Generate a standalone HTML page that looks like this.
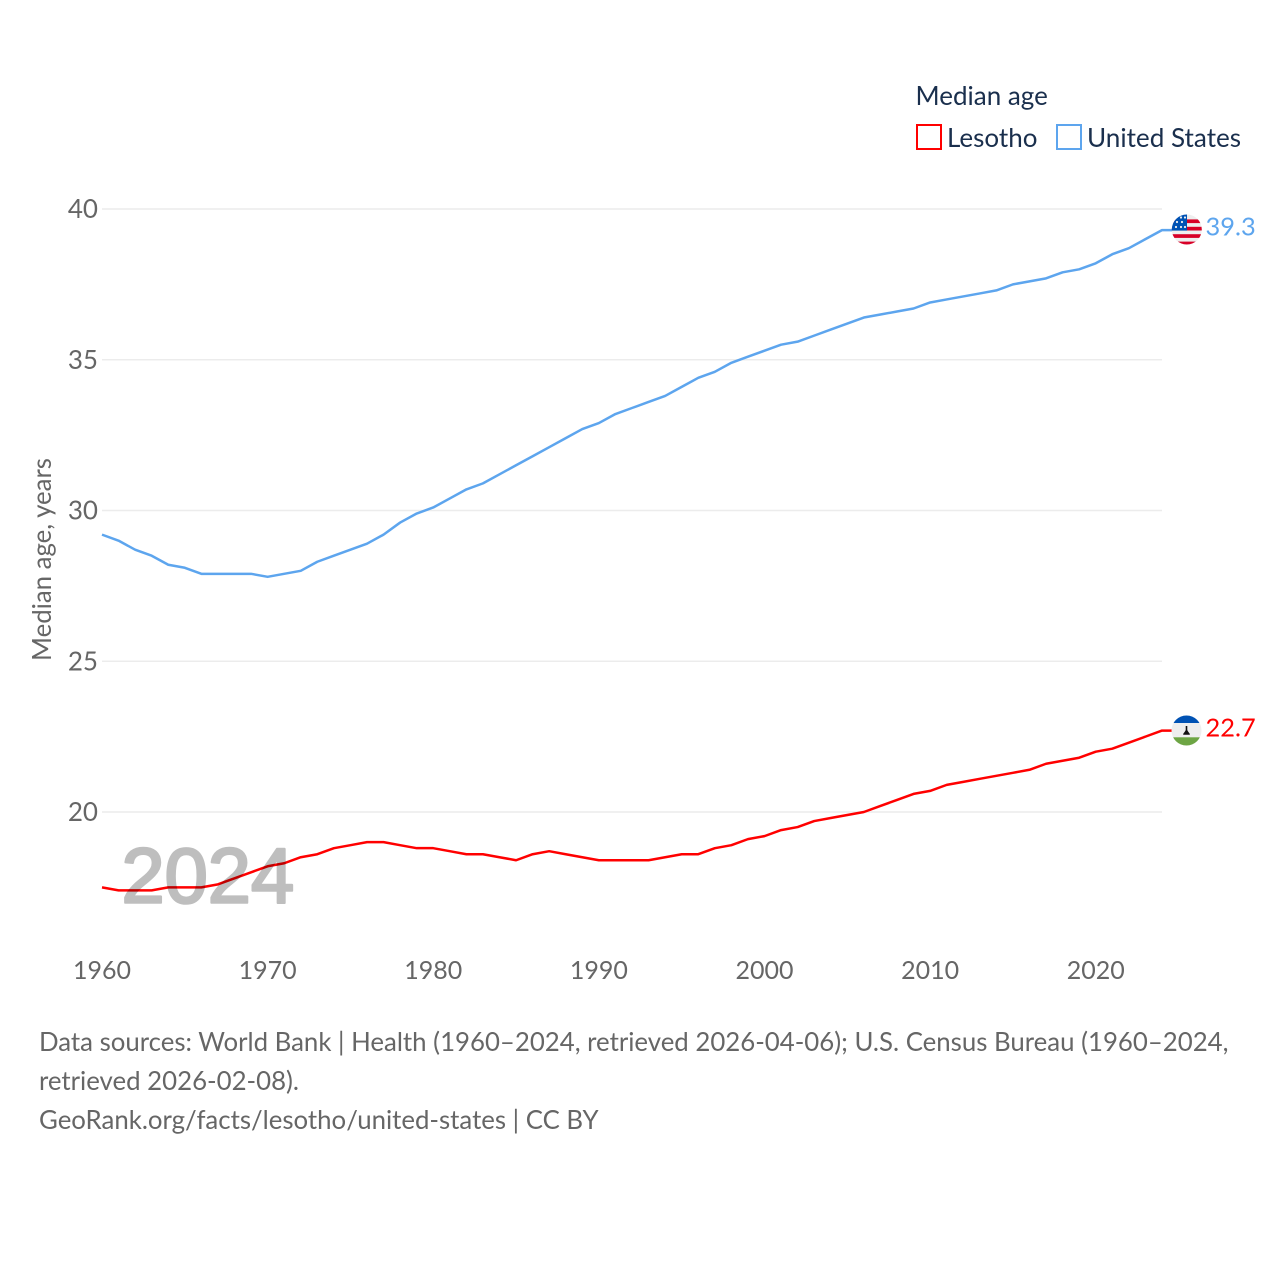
<!DOCTYPE html>
<html lang="en">
<head>
<meta charset="utf-8">
<title>Median age: Lesotho and United States</title>
<style>
html,body{margin:0;padding:0;background:#fff;width:1280px;height:1280px;overflow:hidden}
svg{display:block}
text{font-family:"Lato","Carlito","Liberation Sans",sans-serif}
</style>
</head>
<body>
<svg id="chart" xmlns="http://www.w3.org/2000/svg" width="1280" height="1280" viewBox="0 0 1280 1280">
  <defs>
    <clipPath id="flag-us-clip"><circle cx="1186.8" cy="229.5" r="15"/></clipPath>
    <clipPath id="flag-ls-clip"><circle cx="1186.5" cy="730.5" r="15"/></clipPath>
  </defs>
  <g id="grid"></g>
  <g id="ylabels"></g>
  <g id="xlabels"></g>
  <text transform="translate(51,559.5) rotate(-90)" text-anchor="middle" font-size="25.8" fill="#666666">Median age, years</text>
  <g id="lines"></g>
  <text x="121.5" y="902.5" font-size="77.6" font-weight="400" fill="#000000" stroke="#000000" stroke-width="2.6" stroke-linejoin="round" opacity="0.25" style="font-family:'Liberation Sans',sans-serif">2024</text>

  <g>
    <text x="915.5" y="105" font-size="26" fill="#1a2f4d">Median age</text>
    <g>
      <rect x="917" y="125" width="24" height="24" fill="none" stroke="#ff0000" stroke-width="2"/>
      <text x="947" y="147" font-size="26" fill="#1a2f4d">Lesotho</text>
    </g>
    <g>
      <rect x="1057" y="125" width="24" height="24" fill="none" stroke="#5da5ee" stroke-width="2"/>
      <text x="1087" y="147" font-size="26.1" fill="#1a2f4d">United States</text>
    </g>
  </g>

  <g clip-path="url(#flag-us-clip)">
    <rect x="1171" y="214" width="32" height="31" fill="#eeeeee"/>
    <rect x="1171" y="219.4" width="32" height="3.7" fill="#d80027"/>
    <rect x="1171" y="226.8" width="32" height="3.7" fill="#d80027"/>
    <rect x="1171" y="234.2" width="32" height="3.7" fill="#d80027"/>
    <rect x="1171" y="241.6" width="32" height="3.7" fill="#d80027"/>
    <rect x="1171" y="214" width="16" height="16.6" fill="#0052b4"/>
    <circle cx="1176" cy="227" r="1.1" fill="#eee"/>
    <circle cx="1181" cy="227" r="1.1" fill="#eee"/>
    <circle cx="1185" cy="227" r="1.1" fill="#eee"/>
    <circle cx="1177" cy="222" r="1.1" fill="#eee"/>
    <circle cx="1182" cy="222" r="1.1" fill="#eee"/>
    <circle cx="1181" cy="217.5" r="1.1" fill="#eee"/>
    <circle cx="1185" cy="217.5" r="1.1" fill="#eee"/>
  </g>
  <text id="label-us" x="1205.5" y="235.5" font-size="25.4" fill="#5da5ee">39.3</text>

  <g clip-path="url(#flag-ls-clip)">
    <rect x="1171" y="715" width="32" height="31" fill="#eeeeee"/>
    <rect x="1171" y="715" width="32" height="8" fill="#0052b4"/>
    <rect x="1171" y="737.3" width="32" height="9" fill="#6da544"/>
    <rect x="1185.7" y="726" width="1.6" height="5" fill="#111"/>
    <path d="M1186.5 729l1.6 2.5 1.7 2.4v.8h-6.6v-.8l1.7-2.4z" fill="#111"/>
  </g>
  <text id="label-ls" x="1205.5" y="736.5" font-size="25.4" fill="#ff0000">22.7</text>

  <g>
    <text x="39" y="1051" font-size="25.8" fill="#666666">Data sources: World Bank | Health (1960–2024, retrieved 2026-04-06); U.S. Census Bureau (1960–2024,</text>
    <text x="39" y="1090" font-size="25.8" fill="#666666">retrieved 2026-02-08).</text>
    <text x="39" y="1129" font-size="25.8" fill="#666666">GeoRank.org/facts/lesotho/united-states | CC BY</text>
  </g>
</svg>

<script>
const years = [1960,1961,1962,1963,1964,1965,1966,1967,1968,1969,1970,1971,1972,1973,1974,1975,1976,1977,1978,1979,1980,1981,1982,1983,1984,1985,1986,1987,1988,1989,1990,1991,1992,1993,1994,1995,1996,1997,1998,1999,2000,2001,2002,2003,2004,2005,2006,2007,2008,2009,2010,2011,2012,2013,2014,2015,2016,2017,2018,2019,2020,2021,2022,2023,2024];
const unitedStates = [29.2,29.0,28.7,28.5,28.2,28.1,27.9,27.9,27.9,27.9,27.8,27.9,28.0,28.3,28.5,28.7,28.9,29.2,29.6,29.9,30.1,30.4,30.7,30.9,31.2,31.5,31.8,32.1,32.4,32.7,32.9,33.2,33.4,33.6,33.8,34.1,34.4,34.6,34.9,35.1,35.3,35.5,35.6,35.8,36.0,36.2,36.4,36.5,36.6,36.7,36.9,37.0,37.1,37.2,37.3,37.5,37.6,37.7,37.9,38.0,38.2,38.5,38.7,39.0,39.3];
const lesotho = [17.5,17.4,17.4,17.4,17.5,17.5,17.5,17.6,17.8,18.0,18.2,18.3,18.5,18.6,18.8,18.9,19.0,19.0,18.9,18.8,18.8,18.7,18.6,18.6,18.5,18.4,18.6,18.7,18.6,18.5,18.4,18.4,18.4,18.4,18.5,18.6,18.6,18.8,18.9,19.1,19.2,19.4,19.5,19.7,19.8,19.9,20.0,20.2,20.4,20.6,20.7,20.9,21.0,21.1,21.2,21.3,21.4,21.6,21.7,21.8,22.0,22.1,22.3,22.5,22.7];
const yTicks = [20,25,30,35,40];
const xTicks = [1960,1970,1980,1990,2000,2010,2020];

const NS = 'http://www.w3.org/2000/svg';
const xScale = function (yr) { return 102 + (yr - 1960) * (1162 - 102) / 64; };
const yScale = function (v) { return 812 - (v - 20) * (812 - 209) / 20; };

const grid = document.getElementById('grid');
const ylabels = document.getElementById('ylabels');
const xlabels = document.getElementById('xlabels');
const linesGroup = document.getElementById('lines');

yTicks.forEach(function (t) {
  const ln = document.createElementNS(NS, 'line');
  
  
  ln.setAttribute('x1', 102);
  ln.setAttribute('x2', 1162);
  ln.setAttribute('y1', yScale(t));
  ln.setAttribute('y2', yScale(t));
  ln.setAttribute('stroke', '#ececec');
  ln.setAttribute('stroke-width', '1.5');
  grid.appendChild(ln);

  const tx = document.createElementNS(NS, 'text');
  
  
  tx.setAttribute('x', 98);
  tx.setAttribute('y', yScale(t) + 9);
  tx.setAttribute('text-anchor', 'end');
  tx.setAttribute('font-size', '26');
  tx.setAttribute('fill', '#666666');
  tx.textContent = String(t);
  ylabels.appendChild(tx);
});

xTicks.forEach(function (t) {
  const tx = document.createElementNS(NS, 'text');
  
  
  tx.setAttribute('x', xScale(t));
  tx.setAttribute('y', 979);
  tx.setAttribute('text-anchor', 'middle');
  tx.setAttribute('font-size', '25');
  tx.setAttribute('fill', '#666666');
  tx.textContent = String(t);
  xlabels.appendChild(tx);
});

function buildPoints(values) {
  return values.map(function (v, i) {
    return xScale(years[i]).toFixed(2) + ',' + yScale(v).toFixed(2);
  }).join(' ');
}

const usLine = document.createElementNS(NS, 'polyline');


usLine.setAttribute('points', buildPoints(unitedStates) + ' 1173,' + yScale(unitedStates[unitedStates.length - 1]).toFixed(2));
usLine.setAttribute('fill', 'none');
usLine.setAttribute('stroke', '#5da5ee');
usLine.setAttribute('stroke-width', '2.5');
usLine.setAttribute('stroke-linejoin', 'round');
linesGroup.appendChild(usLine);

const lsLine = document.createElementNS(NS, 'polyline');


lsLine.setAttribute('points', buildPoints(lesotho) + ' 1173,' + yScale(lesotho[lesotho.length - 1]).toFixed(2));
lsLine.setAttribute('fill', 'none');
lsLine.setAttribute('stroke', '#ff0000');
lsLine.setAttribute('stroke-width', '2.5');
lsLine.setAttribute('stroke-linejoin', 'round');
linesGroup.appendChild(lsLine);

document.getElementById('label-us').textContent = unitedStates[unitedStates.length - 1].toFixed(1);
document.getElementById('label-ls').textContent = lesotho[lesotho.length - 1].toFixed(1);
</script>
</body>
</html>
